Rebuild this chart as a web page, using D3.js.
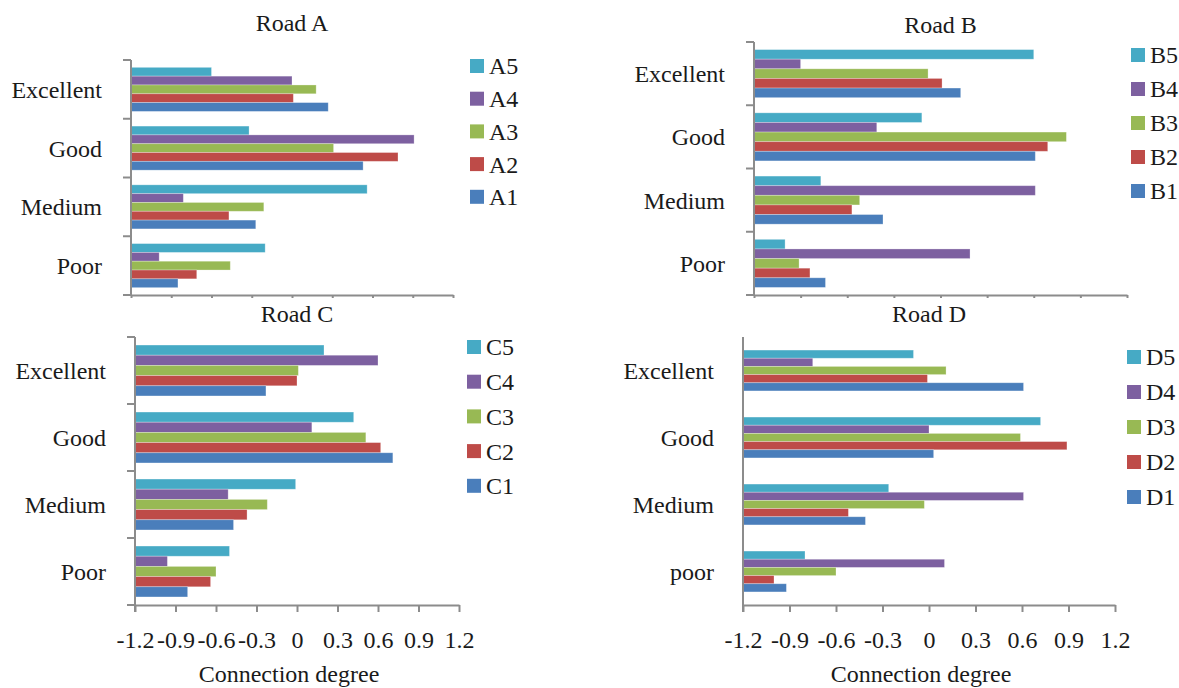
<!DOCTYPE html>
<html>
<head>
<meta charset="utf-8">
<script src="https://cdn.jsdelivr.net/npm/d3@7"></script>
<style>
  body { margin: 0; background: #fff; }
  text { font-family: "Liberation Serif", "Times New Roman", serif; fill: #1a1a1a; }
</style>
</head>
<body>
<div id="chart"></div>
<script>
// categories and tick values
const categories = ["Excellent", "Good", "Medium", "Poor"];
const categoriesD = ["Excellent", "Good", "Medium", "poor"];
const tickValues = [-1.2, -0.9, -0.6, -0.3, 0, 0.3, 0.6, 0.9, 1.2];
const tickLabels = ["-1.2", "-0.9", "-0.6", "-0.3", "0", "0.3", "0.6", "0.9", "1.2"];

// series values, one array per series, in category order (Excellent, Good, Medium, Poor)
const namesA = ["A1", "A2", "A3", "A4", "A5"];
const roadA = [
  [0.27, 0.53, -0.27, -0.85],
  [0.01, 0.79, -0.47, -0.71],
  [0.18, 0.31, -0.21, -0.46],
  [0.00, 0.91, -0.81, -0.99],
  [-0.60, -0.32, 0.56, -0.20]
];
const namesB = ["B1", "B2", "B3", "B4", "B5"];
const roadB = [
  [0.13, 0.61, -0.37, -0.74],
  [0.01, 0.69, -0.57, -0.84],
  [-0.08, 0.81, -0.52, -0.91],
  [-0.90, -0.41, 0.61, 0.19],
  [0.60, -0.12, -0.77, -1.00]
];
const namesC = ["C1", "C2", "C3", "C4", "C5"];
const roadC = [
  [-0.23, 0.71, -0.47, -0.81],
  [0.00, 0.62, -0.37, -0.64],
  [0.01, 0.51, -0.22, -0.60],
  [0.60, 0.11, -0.51, -0.96],
  [0.20, 0.42, -0.01, -0.50]
];
const namesD = ["D1", "D2", "D3", "D4", "D5"];
const roadD = [
  [0.61, 0.03, -0.41, -0.92],
  [-0.01, 0.89, -0.52, -1.00],
  [0.11, 0.59, -0.03, -0.60],
  [-0.75, 0.00, 0.61, 0.10],
  [-0.10, 0.72, -0.26, -0.80]
];

const colors = ["#4a7ebb", "#be4b48", "#98b954", "#7d60a0", "#46aac5"];

const width = 1179, height = 688;
const axisColor = "#8c8c8c";
const fontSize = 24;

const svg = d3.select("#chart")
  .append("svg")
  .attr("width", width)
  .attr("height", height)
  .attr("viewBox", [0, 0, width, height]);

const panels = [
  {title: "Road A", names: namesA, values: roadA, cats: categories,
   x0: 131, x1: 453, y0: 60, y1: 295, pad: 0.25, yTicks: true, xLabels: false, xTick: 3,
   titleY: 31, legendX: 470, legendY: 66, legendStep: 32.7},
  {title: "Road B", names: namesB, values: roadB, cats: categories,
   x0: 754, x1: 1127, y0: 42, y1: 295, pad: 0.24, yTicks: true, xLabels: false, xTick: 3,
   titleY: 33, legendX: 1131, legendY: 55, legendStep: 34},
  {title: "Road C", names: namesC, values: roadC, cats: categories,
   x0: 135, x1: 459, y0: 337, y1: 605, pad: 0.24, yTicks: true, xLabels: true, xTick: 7,
   titleY: 322, legendX: 467, legendY: 347, legendStep: 34.7},
  {title: "Road D", names: namesD, values: roadD, cats: categoriesD,
   x0: 743, x1: 1115, y0: 337, y1: 605, pad: 0.39, yTicks: false, xLabels: true, xTick: 7,
   titleY: 322, legendX: 1127, legendY: 357, legendStep: 35}
];

panels.forEach(p => {
  const g = svg.append("g");

  const x = d3.scaleLinear().domain([-1.2, 1.2]).range([p.x0, p.x1]);
  const y = d3.scaleBand().domain(p.cats).range([p.y0, p.y1])
    .paddingInner(p.pad).paddingOuter(p.pad / 2);
  // series drawn top to bottom: 5,4,3,2,1
  const order = d3.range(p.names.length).reverse();
  const ys = d3.scaleBand().domain(order).range([0, y.bandwidth()]);

  // bars
  order.forEach(s => {
    g.append("g")
      .selectAll("rect")
      .data(p.values[s])
      .join("rect")
      .attr("x", x(-1.2))
      .attr("y", (d, i) => y(p.cats[i]) + ys(s))
      .attr("width", d => x(d) - x(-1.2))
      .attr("height", ys.bandwidth())
      .attr("fill", colors[s])
      .attr("stroke", "#fff")
      .attr("stroke-opacity", 0.35)
      .attr("stroke-width", 0.8);
  });

  // x axis
  const xAxis = g.append("g")
    .attr("transform", `translate(0,${p.y1})`)
    .call(d3.axisBottom(x).tickValues(tickValues)
      .tickFormat((d, i) => p.xLabels ? tickLabels[i] : "")
      .tickSize(p.xTick).tickSizeOuter(0).tickPadding(19));
  xAxis.select(".domain").attr("stroke", axisColor).attr("stroke-width", 2);
  xAxis.selectAll(".tick line").attr("stroke", axisColor).attr("stroke-width", 2);
  xAxis.selectAll(".tick text")
    .attr("font-size", fontSize)
    .attr("font-family", "Liberation Serif")
    .attr("fill", "#1a1a1a");

  // y axis line
  g.append("line")
    .attr("x1", x(-1.2)).attr("x2", x(-1.2))
    .attr("y1", p.y0).attr("y2", p.y1 + (p.xLabels ? p.xTick : 0))
    .attr("stroke", axisColor).attr("stroke-width", 2);

  // category boundary ticks
  if (p.yTicks) {
    const bounds = p.cats.map(c => y(c) - y.step() * p.pad / 2).concat([p.y1]);
    g.append("g")
      .selectAll("line")
      .data(bounds)
      .join("line")
      .attr("x1", x(-1.2) - 8).attr("x2", x(-1.2))
      .attr("y1", d => d).attr("y2", d => d)
      .attr("stroke", axisColor).attr("stroke-width", 2);
  }

  // category labels
  g.append("g")
    .selectAll("text")
    .data(p.cats)
    .join("text")
    .attr("x", x(-1.2) - 29)
    .attr("y", d => y(d) + y.bandwidth() / 2)
    .attr("dy", "0.35em")
    .attr("text-anchor", "end")
    .attr("font-size", fontSize)
    .text(d => d);

  // title
  g.append("text")
    .attr("x", (p.x0 + p.x1) / 2)
    .attr("y", p.titleY)
    .attr("text-anchor", "middle")
    .attr("font-size", fontSize)
    .text(p.title);

  if (p.xLabels) {
    g.append("text")
      .attr("x", (p.x0 + p.x1) / 2 - 8)
      .attr("y", 682)
      .attr("text-anchor", "middle")
      .attr("font-size", fontSize)
      .text("Connection degree");
  }

  // legend, 5 at top
  const leg = g.append("g")
    .selectAll("g")
    .data(order)
    .join("g")
    .attr("transform", (d, i) => `translate(${p.legendX},${p.legendY + i * p.legendStep})`);
  leg.append("rect")
    .attr("x", 0).attr("y", -7)
    .attr("width", 14).attr("height", 14)
    .attr("fill", d => colors[d]);
  leg.append("text")
    .attr("x", 19)
    .attr("dy", "0.35em")
    .attr("font-size", fontSize)
    .text(d => p.names[d]);
});
</script>
</body>
</html>
